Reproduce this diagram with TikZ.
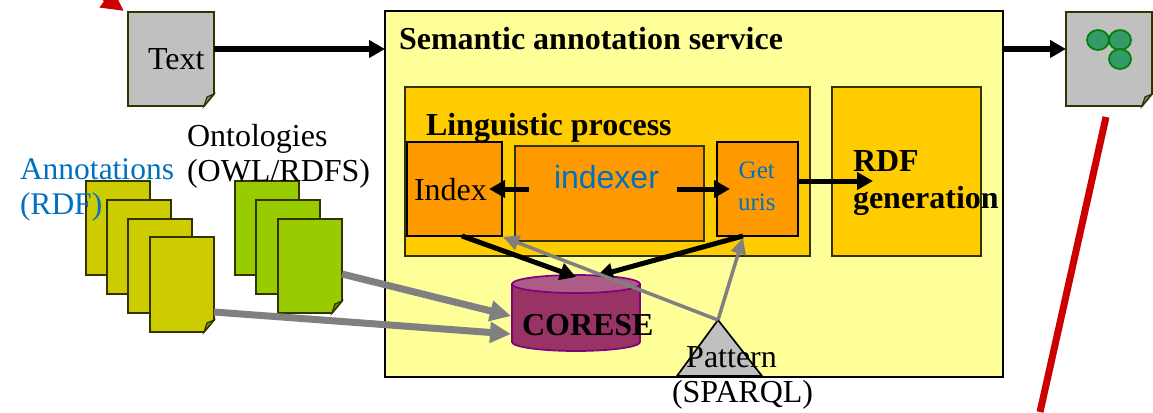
\documentclass[tikz,border=0pt]{standalone}
\usepackage{fontspec}
\setmainfont{Liberation Serif}
\setsansfont{Liberation Sans}
\usetikzlibrary{arrows.meta,shapes.geometric}
\definecolor{mainfill}{HTML}{FFFF99}
\definecolor{procfill}{HTML}{FFCC00}
\definecolor{subfill}{HTML}{FF9900}
\definecolor{annfill}{HTML}{CCCC00}
\definecolor{ontfill}{HTML}{99CC00}
\definecolor{docgrey}{HTML}{C0C0C0}
\definecolor{docline}{HTML}{333300}
\definecolor{cylfill}{HTML}{993366}
\definecolor{cyltop}{HTML}{AD5C85}
\definecolor{cylline}{HTML}{800080}
\definecolor{dotfill}{HTML}{339966}
\definecolor{dotline}{HTML}{008000}
\definecolor{bluetext}{HTML}{0070C0}
\definecolor{redline}{HTML}{CC0000}
\tikzset{
  corner box/.style={rectangle,draw=#1,inner sep=0pt,outer sep=0pt,line width=1.7pt},
  ghost box/.style={rectangle,inner sep=0pt,outer sep=0pt},
  docpath/.style={draw=docline,line width=1.8pt,line join=miter},
  blackarrow/.style={draw=black,line width=5.5pt,-{Triangle[length=16pt,width=17pt]}},
  smallarrow/.style={draw=black,line width=5pt,-{Triangle[length=16pt,width=17pt]}},
  greyarrow/.style={draw=gray,line width=7pt,-{Triangle[length=21pt,width=20pt]}},
  thingrey/.style={draw=gray,line width=3.5pt,-{Triangle[length=16pt,width=15pt]}},
  redarrow/.style={draw=redline,line width=7pt},
  label/.style={inner sep=0pt,outer sep=0pt,anchor=base west,font=\fontsize{32}{35}\selectfont,align=left},
  dot/.style={ellipse,draw=dotline,fill=dotfill,line width=1.7pt,minimum width=22pt,minimum height=20pt,inner sep=0pt},
}
\newcommand{\cornernode}[6]{%
  \node[#6,minimum width={(#4)-(#2)},minimum height={(#5)-(#3)}] (#1) at ({((#2)+(#4))/2},{((#3)+(#5))/2}) {};}
\newcommand{\docnode}[6]{%
  \cornernode{#1}{#2}{#3}{#4}{#5}{ghost box}
  \path[docpath,fill=#6] (#1.north west) -- (#1.north east) -- ([yshift=12pt]#1.south east)
    -- ([xshift=-10pt]#1.south east) -- (#1.south west) -- cycle;
  \path[docpath,line width=1.2pt,fill=#6!70!black] ([yshift=12pt]#1.south east)
    -- ([xshift=-7pt,yshift=9pt]#1.south east) -- ([xshift=-10pt]#1.south east) -- cycle;}
\begin{document}
\begin{tikzpicture}[x=1pt,y=-1pt]
\useasboundingbox (0,0) rectangle (1153,412);
\clip (0,0) rectangle (1153,412);
% main boxes
\cornernode{main}{385}{11}{1003}{377}{corner box=black,fill=mainfill}
\cornernode{ling}{405}{87}{810}{256}{corner box=docline,fill=procfill}
\cornernode{rdf}{832}{87}{981}{256}{corner box=docline,fill=procfill}
\cornernode{index}{407}{142}{502}{236}{corner box=black,fill=subfill}
\cornernode{indexer}{515}{146}{704}{241}{corner box=docline,fill=subfill}
\cornernode{geturis}{717}{142}{798}{236}{corner box=black,fill=subfill}
% documents
\docnode{textdoc}{128}{12}{214}{106}{docgrey}
\docnode{resultdoc}{1066}{12}{1152}{106}{docgrey}
\docnode{annA}{86}{181}{150}{275}{annfill}
\docnode{annB}{107}{200}{171}{294}{annfill}
\docnode{annC}{128}{219}{192}{313}{annfill}
\docnode{annD}{150}{237}{214}{332}{annfill}
\docnode{ontA}{235}{181}{299}{275}{ontfill}
\docnode{ontB}{256}{200}{320}{294}{ontfill}
\docnode{ontC}{278}{219}{342}{313}{ontfill}
% dots
\node[dot] (dotA) at (1098,40) {};
\node[dot] (dotB) at (1120,40) {};
\node[dot] (dotC) at (1120,59) {};
% cylinder
\cornernode{corese}{512}{275}{640}{351}{ghost box}
\path[draw=cylline,fill=cylfill,line width=1.7pt] (512,284) -- (512,342) arc[start angle=180,end angle=360,x radius=64,y radius=-9] -- (640,284) -- cycle;
\path[draw=cylline,fill=cyltop,line width=1.7pt] (576,284) ellipse[x radius=64,y radius=9];
% triangle
\coordinate (apex) at (718,320);
\path[draw=black,fill=docgrey,line width=1.7pt] (apex) -- (762,376) -- (677,376) -- cycle;
% connectors
\draw[blackarrow] ([yshift=10pt]textdoc.east) -- ([yshift=145pt]main.west);
\draw[blackarrow] ([yshift=145pt]main.east) -- ([yshift=10pt]resultdoc.west);
\draw[smallarrow] ([xshift=14pt,yshift=4.5pt]indexer.west) -- ([xshift=-13pt]index.east);
\draw[smallarrow] ([xshift=-27pt,yshift=4.5pt]indexer.east) -- ([xshift=13pt]geturis.west);
\draw[smallarrow] ([yshift=8pt]geturis.east) -- ([xshift=41pt,yshift=-9.5pt]rdf.west);
\draw[smallarrow] ([xshift=7.5pt]index.south) -- ([yshift=-2pt]corese.north);
\draw[smallarrow] ([xshift=-14.5pt]geturis.south) -- ([xshift=21pt,yshift=-1pt]corese.north);
\draw[greyarrow] ([yshift=-8pt]ontC.east) -- ([xshift=-1pt,yshift=-3pt]corese.west);
\draw[greyarrow] ([yshift=-27.5pt]annD.east) -- ([xshift=-1pt,yshift=-21pt]corese.west);
\draw[thingrey] (apex) -- ([xshift=1pt,yshift=-1pt]index.south east);
\draw[thingrey] (apex) -- ([xshift=-14.5pt,yshift=-2pt]geturis.south);
% red lines
\coordinate (redstartA) at (83,-18);
\coordinate (redstartB) at (1106,117);
\coordinate (redendB) at (1040,412);
\draw[redarrow,-{Triangle[length=22pt,width=21pt]}] (redstartA) -- ([xshift=-4pt,yshift=1pt]textdoc.north west);
\draw[redarrow] (redstartB) -- (redendB);
% labels
\node[label,font=\fontsize{32}{35}\selectfont\bfseries] (lmain) at (399,50) {Semantic annotation service};
\node[label,font=\fontsize{32}{35}\selectfont\bfseries] (lling) at (426,135) {Linguistic process};
\node[label,font=\fontsize{32}{37}\selectfont\bfseries] (lrdf) at (853,208) {RDF\\generation};
\node[label] (ltext) at (148,70) {Text};
\node[label] (lindex) at (414,200) {Index};
\node[label,font=\fontsize{32}{35}\selectfont\sffamily,text=bluetext] (lindexer) at (554,188) {indexer};
\node[label,font=\fontsize{25}{32}\selectfont,text=bluetext,align=center] (luris) at (738,210) {Get\\uris};
\node[label] (lont) at (187,181) {Ontologies\\(OWL/RDFS)};
\node[label,font=\fontsize{31.5}{35}\selectfont,text=bluetext] (lann) at (20,214) {Annotations\\(RDF)};
\node[label,font=\fontsize{32}{35}\selectfont\bfseries] (lcorese) at (522,335) {CORESE};
\node[label,align=center] (lpattern) at (672,402) {Pattern\hspace*{22pt}\\(SPARQL)};
\end{tikzpicture}
\end{document}
